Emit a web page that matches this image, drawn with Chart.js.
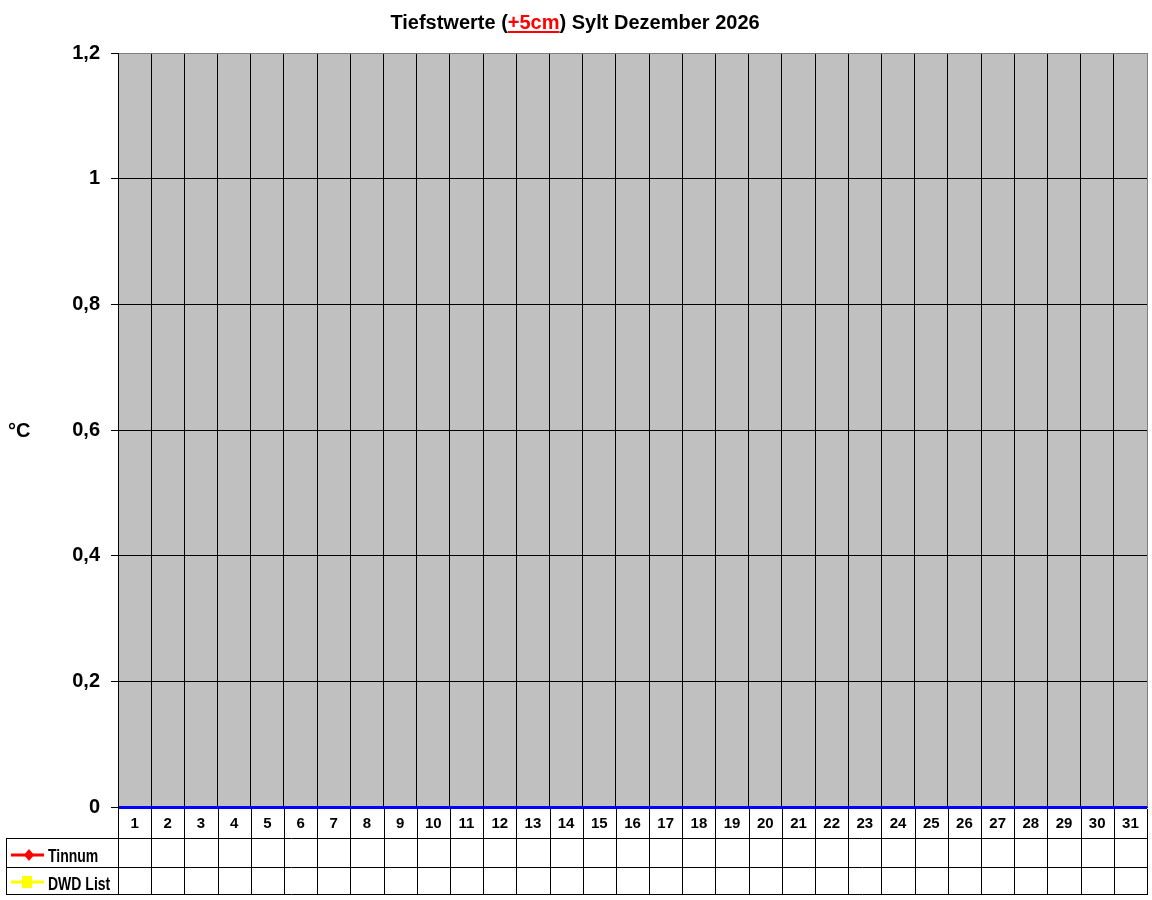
<!DOCTYPE html>
<html>
<head>
<meta charset="utf-8">
<script src="https://cdn.jsdelivr.net/npm/chart.js@4.4.1/dist/chart.umd.min.js"></script>
<style>
html,body{margin:0;padding:0;background:#fff;}
#wrap{width:1152px;height:900px;position:relative;}
canvas{display:block;}
</style>
</head>
<body>
<div id="wrap"><canvas id="c" width="1152" height="900"></canvas></div>
<script>
// ---- data ----
const days = ['1','2','3','4','5','6','7','8','9','10','11','12','13','14','15','16','17','18','19','20','21','22','23','24','25','26','27','28','29','30','31'];
const tinnum = [null,null,null,null,null,null,null,null,null,null,null,null,null,null,null,null,null,null,null,null,null,null,null,null,null,null,null,null,null,null,null];
const dwdList = [null,null,null,null,null,null,null,null,null,null,null,null,null,null,null,null,null,null,null,null,null,null,null,null,null,null,null,null,null,null,null];
const yTicks = [0, 0.2, 0.4, 0.6, 0.8, 1, 1.2];
const seriesNames = ['Tinnum', 'DWD List'];
const titleParts = [
  {text: 'Tiefstwerte (', color: '#000000', underline: false},
  {text: '+5cm', color: '#ff0000', underline: true},
  {text: ') Sylt Dezember 2026', color: '#000000', underline: false}
];
const yUnit = '°C';

// ---- styles ----
const SANS = '"Liberation Sans", Arial, sans-serif';
const rowH = [31, 29, 27];

const sheetPlugin = {
  id: 'sheet',
  beforeDraw(chart) {
    const a = chart.chartArea, ctx = chart.ctx;
    ctx.save();
    ctx.fillStyle = '#C0C0C0';
    ctx.fillRect(a.left, a.top, a.right - a.left, a.bottom - a.top);
    ctx.restore();
  },
  afterDraw(chart) {
    const a = chart.chartArea, ctx = chart.ctx;
    const xs = chart.scales.x;
    ctx.save();
    // title
    ctx.font = 'bold 20px ' + SANS;
    ctx.textBaseline = 'alphabetic';
    ctx.textAlign = 'left';
    let total = 0;
    titleParts.forEach(p => total += ctx.measureText(p.text).width);
    let tx = 575 - total / 2;
    titleParts.forEach(p => {
      const w = ctx.measureText(p.text).width;
      ctx.fillStyle = p.color;
      ctx.fillText(p.text, tx, 29);
      if (p.underline) {
        ctx.fillRect(tx, 31, w, 2);
      }
      tx += w;
    });
    // unit
    ctx.fillStyle = '#000';
    ctx.font = 'bold 20px ' + SANS;
    ctx.fillText(yUnit, 8, 437);

    // table
    const spacing = xs.getPixelForTick(1) - xs.getPixelForTick(0);
    const y0 = a.bottom;
    const y1 = y0 + rowH[0], y2 = y1 + rowH[1], y3 = y2 + rowH[2];
    const tableLeft = 6;
    ctx.strokeStyle = '#000';
    ctx.lineWidth = 1;
    ctx.beginPath();
    for (let i = 0; i <= days.length; i++) {
      let x = (i < days.length) ? xs.getPixelForTick(i) - spacing / 2 : xs.getPixelForTick(days.length - 1) + spacing / 2;
      x = Math.round(x) + 0.5;
      ctx.moveTo(x, y0 + 2);
      ctx.lineTo(x, y3 + 0.5);
    }
    [y1, y2, y3].forEach(y => {
      ctx.moveTo(tableLeft, y + 0.5);
      ctx.lineTo(Math.round(a.right) + 1, y + 0.5);
    });
    ctx.moveTo(tableLeft + 0.5, y1);
    ctx.lineTo(tableLeft + 0.5, y3 + 1);
    ctx.stroke();

    // legend entries
    const ds = chart.data.datasets;
    ds.forEach((d, k) => {
      const cy = k === 0 ? y1 + 17 : y2 + 15;
      ctx.strokeStyle = d.borderColor;
      ctx.lineWidth = 3;
      ctx.beginPath();
      ctx.moveTo(11, cy);
      ctx.lineTo(44, cy);
      ctx.stroke();
      ctx.fillStyle = d.backgroundColor;
      if (d.pointStyle === 'rectRot') {
        ctx.beginPath();
        ctx.moveTo(29, cy - 6);
        ctx.lineTo(34, cy);
        ctx.lineTo(29, cy + 6);
        ctx.lineTo(24, cy);
        ctx.closePath();
        ctx.fill();
      } else {
        ctx.fillRect(22, cy - 6, 10, 12);
      }
      ctx.fillStyle = '#000';
      ctx.font = 'bold 14px ' + SANS;
      ctx.textBaseline = 'alphabetic';
      const by = k === 0 ? 862 : 890;
      ctx.save();
      ctx.translate(48, by);
      ctx.scale(1, 1.25);
      ctx.fillText(d.label, 0, 0);
      ctx.restore();
    });
    ctx.restore();
  }
};

new Chart(document.getElementById('c'), {
  type: 'line',
  data: {
    labels: days,
    datasets: [
      {label: seriesNames[0], data: tinnum, borderColor: '#ff0000', backgroundColor: '#ff0000', pointStyle: 'rectRot', pointRadius: 5, borderWidth: 3},
      {label: seriesNames[1], data: dwdList, borderColor: '#ffff00', backgroundColor: '#ffff00', pointStyle: 'rect', pointRadius: 5, borderWidth: 3}
    ]
  },
  options: {
    responsive: false,
    animation: false,
    devicePixelRatio: 1,
    layout: {autoPadding: false, padding: {left: 0, top: 53, right: 5, bottom: 0}},
    plugins: {legend: {display: false}, title: {display: false}, tooltip: {enabled: false}},
    scales: {
      x: {
        type: 'category',
        offset: true,
        afterFit(s) { s.height = 93; s.paddingLeft = 0; s.paddingRight = 0; },
        grid: {
          offset: true,
          drawTicks: false,
          lineWidth: 1,
          color: c => (c.type === 'tick' ? '#000000' : '#808080')
        },
        border: {display: true, color: '#0000ff', width: 1},
        ticks: {
          color: '#000',
          font: {family: SANS, size: 15, weight: 'bold'},
          padding: 8,
          maxRotation: 0,
          autoSkip: false
        }
      },
      y: {
        min: 0,
        max: 1.2,
        afterFit(s) { s.width = 118; },
        afterBuildTicks(s) { s.ticks = yTicks.map(v => ({value: v})); },
        grid: {
          drawTicks: true,
          tickLength: 7,
          tickColor: '#000000',
          tickWidth: 1,
          lineWidth: c => (c.tick && c.tick.value === 0 ? 3 : 1),
          color: c => {
            const v = c.tick ? c.tick.value : null;
            if (v === 0) return '#0000ff';
            if (v !== null && Math.abs(v - 1.2) < 1e-6) return '#808080';
            return '#000000';
          }
        },
        border: {display: true, color: '#000', width: 1},
        ticks: {
          color: '#000',
          font: {family: SANS, size: 20, weight: 'bold'},
          padding: 11,
          callback: v => String(Math.round(v * 10) / 10).replace('.', ',')
        }
      }
    }
  },
  plugins: [sheetPlugin]
});
</script>
</body>
</html>
